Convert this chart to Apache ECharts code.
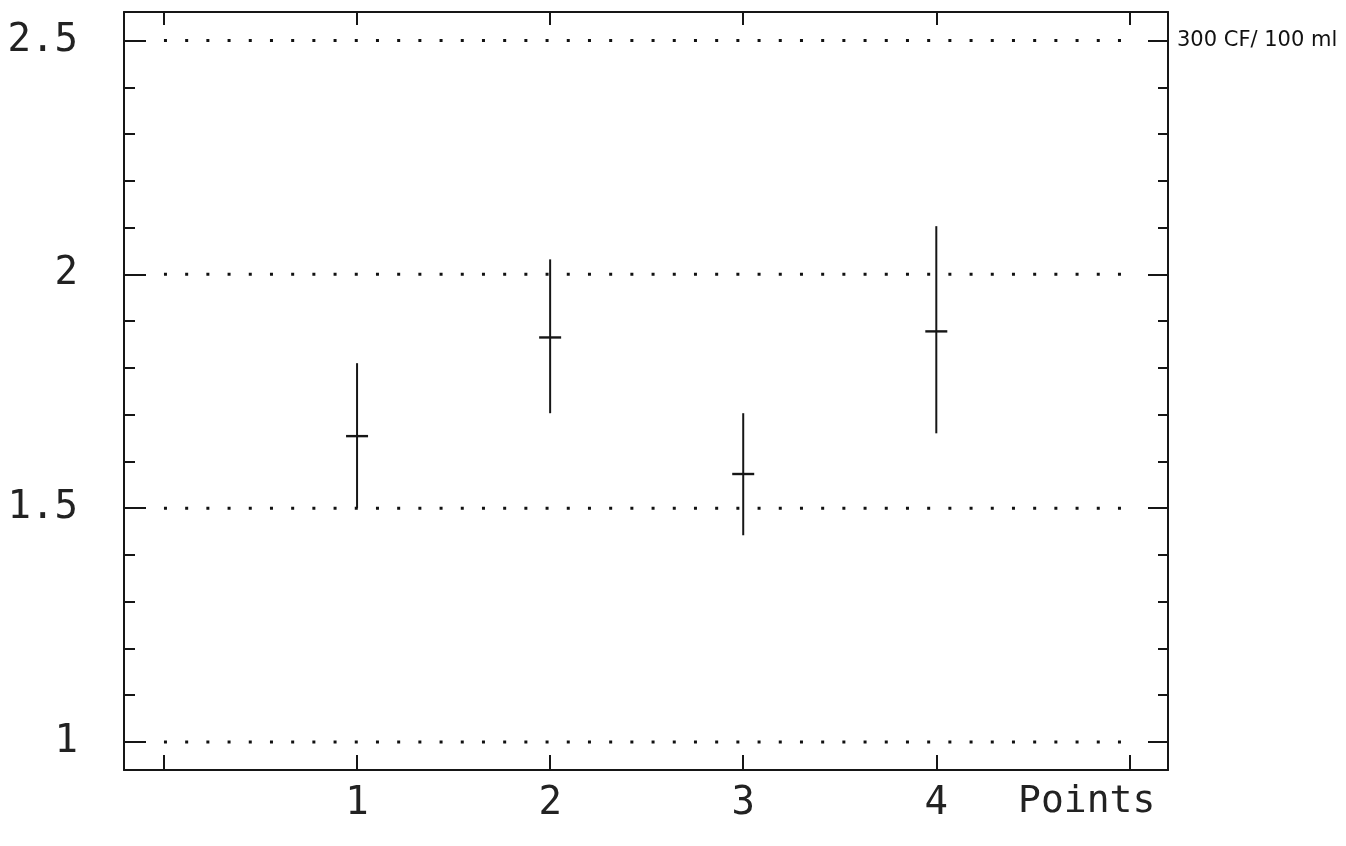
<!DOCTYPE html>
<html>
<head>
<meta charset="utf-8">
<script src="https://cdn.jsdelivr.net/npm/echarts@6/dist/echarts.min.js"></script>
<style>
html,body{margin:0;padding:0;background:#fff;}
#chart{width:1346px;height:846px;}
</style>
</head>
<body>
<div id="chart"></div>
<script>
// ---- data ----
const points = [1, 2, 3, 4];
const means = [1.654, 1.865, 1.573, 1.878];
const lows = [1.500, 1.703, 1.442, 1.660];
const highs = [1.810, 2.032, 1.703, 2.103];
const xTickValues = [0, 1, 2, 3, 4, 5];
const xLabelValues = [1, 2, 3, 4];
const yMajorValues = [1, 1.5, 2, 2.5];
const yMinorValues = [1.1, 1.2, 1.3, 1.4, 1.6, 1.7, 1.8, 1.9, 2.1, 2.2, 2.3, 2.4];
const rightLabelValue = 2.5;
const rightLabelText = '300 CF/ 100 ml';
const xName = 'Points';

const INK = '#161616';
const X_MIN = -0.207, X_MAX = 5.2, Y_MIN = 0.94, Y_MAX = 2.561;
const monoFont = '"DejaVu Sans Mono", monospace';

const chart = echarts.init(document.getElementById('chart'), null, {renderer: 'canvas'});

function yAxisBase(pos, showLine) {
  return {
    type: 'value', position: pos, min: Y_MIN, max: Y_MAX,
    splitLine: {show: false},
    axisLine: {show: showLine, onZero: false, lineStyle: {color: INK, width: 2}},
  };
}

const errorData = points.map((p, i) => [p, lows[i], highs[i], means[i]]);

const option = {
  backgroundColor: '#ffffff',
  animation: false,
  grid: {left: 124, right: 178, top: 12, bottom: 76},
  xAxis: [
    {
      type: 'value', position: 'bottom', min: X_MIN, max: X_MAX,
      splitLine: {show: false},
      axisLine: {show: true, onZero: false, lineStyle: {color: INK, width: 2}},
      axisTick: {show: true, inside: true, length: 15, customValues: xTickValues, lineStyle: {color: INK, width: 2}},
      axisLabel: {show: true, customValues: xLabelValues, margin: 14, color: '#222', fontFamily: monoFont, fontSize: 39},
      name: xName, nameLocation: 'end', nameGap: -150,
      nameTextStyle: {color: '#222', fontFamily: monoFont, fontSize: 38, align: 'left', verticalAlign: 'top', padding: [13, 0, 0, 0]}
    },
    {
      type: 'value', position: 'top', min: X_MIN, max: X_MAX,
      splitLine: {show: false},
      axisLine: {show: true, onZero: false, lineStyle: {color: INK, width: 2}},
      axisTick: {show: true, inside: true, length: 13, customValues: xTickValues, lineStyle: {color: INK, width: 2}},
      axisLabel: {show: false}
    }
  ],
  yAxis: [
    Object.assign(yAxisBase('left', true), {
      axisTick: {show: true, inside: true, length: 22, customValues: yMajorValues, lineStyle: {color: INK, width: 2}},
      axisLabel: {show: true, customValues: yMajorValues, margin: 46, color: '#222', fontFamily: monoFont, fontSize: 39,
        formatter: v => String(v)}
    }),
    Object.assign(yAxisBase('left', false), {
      axisTick: {show: true, inside: true, length: 11, customValues: yMinorValues, lineStyle: {color: INK, width: 2}},
      axisLabel: {show: false}
    }),
    Object.assign(yAxisBase('right', true), {
      axisTick: {show: true, inside: true, length: 20, customValues: yMajorValues, lineStyle: {color: INK, width: 2}},
      axisLabel: {show: true, customValues: [rightLabelValue], margin: 9, color: '#111',
        fontFamily: '"DejaVu Sans", sans-serif', fontSize: 21, formatter: () => rightLabelText}
    }),
    Object.assign(yAxisBase('right', false), {
      axisTick: {show: true, inside: true, length: 10, customValues: yMinorValues, lineStyle: {color: INK, width: 2}},
      axisLabel: {show: false}
    })
  ],
  series: [
    {
      name: 'gridlines', type: 'custom', xAxisIndex: 0, yAxisIndex: 0,
      silent: true, clip: false,
      data: yMajorValues.map(v => [v]),
      renderItem: function (params, api) {
        const v = api.value(0);
        const a = api.coord([xTickValues[0], v]);
        const b = api.coord([xTickValues[xTickValues.length - 1], v]);
        return {
          type: 'line',
          shape: {x1: a[0], y1: a[1], x2: b[0] + 2, y2: b[1]},
          style: {stroke: '#111', lineWidth: 3, lineDash: [3, 18.2], lineCap: 'butt'}
        };
      },
      encode: {y: 0}
    },
    {
      name: 'CF', type: 'custom', xAxisIndex: 0, yAxisIndex: 0,
      silent: true, clip: false,
      data: errorData,
      encode: {x: 0, y: [1, 2, 3]},
      renderItem: function (params, api) {
        const x = api.value(0);
        const lo = api.coord([x, api.value(1)]);
        const hi = api.coord([x, api.value(2)]);
        const mid = api.coord([x, api.value(3)]);
        const half = 11;
        return {
          type: 'group',
          children: [
            {type: 'line', shape: {x1: lo[0], y1: lo[1], x2: hi[0], y2: hi[1]},
              style: {stroke: INK, lineWidth: 2}},
            {type: 'line', shape: {x1: mid[0] - half, y1: mid[1], x2: mid[0] + half, y2: mid[1]},
              style: {stroke: INK, lineWidth: 2.4}}
          ]
        };
      }
    }
  ]
};

chart.setOption(option);
</script>
</body>
</html>
